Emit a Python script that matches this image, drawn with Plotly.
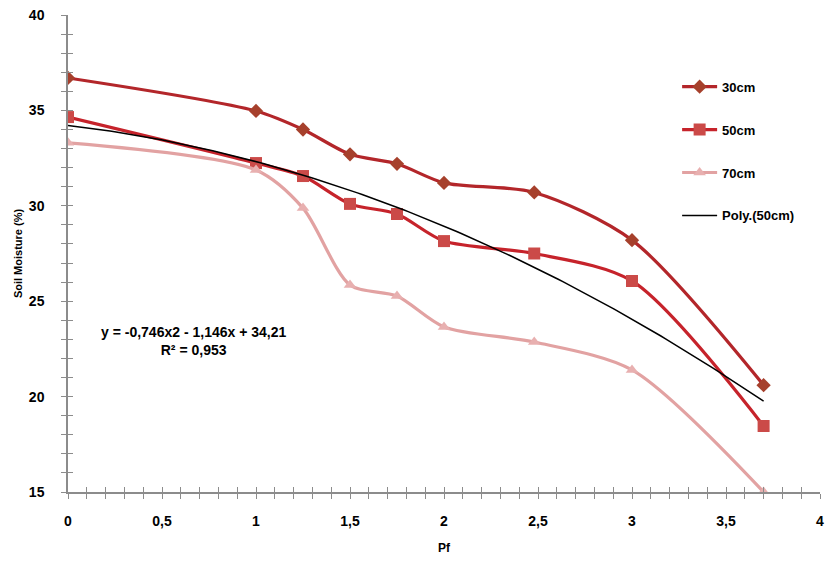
import numpy as np
import plotly.graph_objects as go

pf = [0, 1, 1.25, 1.5, 1.75, 2, 2.48, 3, 3.7]
m30 = [36.7, 34.97, 34.0, 32.7, 32.2, 31.2, 30.7, 28.2, 20.6]
m50 = [34.65, 32.24, 31.56, 30.1, 29.57, 28.15, 27.5, 26.06, 18.46]
m70 = [33.3, 31.88, 29.88, 25.85, 25.27, 23.65, 22.86, 21.4, 15.0]
# polynomial trend coefficients (a2, a1, a0) shown on chart for 50cm
poly50 = [-0.746, -1.146, 34.21]

xt = np.linspace(0, 3.7, 150)
yt = np.polyval(poly50, xt)

FONT = "Liberation Sans"
fig = go.Figure()
fig.add_trace(go.Scatter(x=pf, y=m30, name="30cm", mode="lines+markers",
                         line=dict(color="#B3262A", width=3.2, shape="spline", smoothing=0.8),
                         marker=dict(symbol="diamond", size=11, color="#A6402C"),
                         legendgroup="a"))
fig.add_trace(go.Scatter(x=pf, y=m50, name="50cm", mode="lines+markers",
                         line=dict(color="#C6232B", width=3.2, shape="spline", smoothing=0.8),
                         marker=dict(symbol="square", size=12, color="#CB4A48"),
                         legendgroup="b"))
fig.add_trace(go.Scatter(x=pf, y=m70, name="70cm", mode="lines+markers",
                         line=dict(color="#E2A2A2", width=3.2, shape="spline", smoothing=0.8),
                         marker=dict(symbol="triangle-up", size=11, color="#E8B0B0"),
                         legendgroup="c"))
fig.add_trace(go.Scatter(x=xt, y=yt, name="Poly.(50cm)", mode="lines",
                         line=dict(color="black", width=1.5), legendgroup="d"))
# overlay axes for inside half of crossing ticks
fig.add_trace(go.Scatter(x=[None], y=[None], xaxis="x2", yaxis="y2", showlegend=False, hoverinfo="skip"))

axcommon = dict(showgrid=False, zeroline=False, showline=True, linecolor="#8c8c8c", linewidth=1.5,
                tickcolor="#8c8c8c", ticklen=5, tickwidth=1.2, automargin=False,
                ticklabeloverflow="allow")
fig.update_layout(
    width=828, height=562,
    margin=dict(l=68, r=8, t=15, b=70),
    plot_bgcolor="white", paper_bgcolor="white",
    separators=", ",
    font=dict(family=FONT, size=13, color="black"),
    showlegend=True,
    legend=dict(x=0.81, y=0.881, xanchor="left", yanchor="top", tracegroupgap=23,
                font=dict(family=FONT, size=13, color="black", weight="bold"),
                bgcolor="rgba(0,0,0,0)", itemwidth=35),
    xaxis=dict(range=[0, 4], tickmode="array", tickvals=[0, 0.5, 1, 1.5, 2, 2.5, 3, 3.5, 4],
               ticktext=["0", "0,5", "1", "1,5", "2", "2,5", "3", "3,5", "4"],
               ticks="outside", ticklabelstandoff=10,
               minor=dict(dtick=0.1, ticks="outside", ticklen=5, tickcolor="#8c8c8c"),
               tickfont=dict(family=FONT, size=14, weight="bold"),
               title=dict(text="Pf", font=dict(family=FONT, size=12, weight="bold"), standoff=16),
               **axcommon),
    yaxis=dict(range=[15, 40], tickvals=[15, 20, 25, 30, 35, 40], ticks="outside", ticklabelstandoff=14,
               minor=dict(dtick=1, ticks="outside", ticklen=5, tickcolor="#8c8c8c"),
               tickfont=dict(family=FONT, size=14, weight="bold"),
               title=dict(text="Soil Moisture (%)", font=dict(family=FONT, size=11, weight="bold"), standoff=4),
               **axcommon),
    xaxis2=dict(overlaying="x", matches="x", range=[0, 4], showticklabels=False, ticks="inside",
                tickvals=[0, 0.5, 1, 1.5, 2, 2.5, 3, 3.5, 4], showgrid=False, zeroline=False, showline=False,
                tickcolor="#8c8c8c", ticklen=5, tickwidth=1.2, automargin=False,
                minor=dict(dtick=0.1, ticks="inside", ticklen=5, tickcolor="#8c8c8c")),
    yaxis2=dict(overlaying="y", matches="y", range=[15, 40], showticklabels=False, ticks="inside",
                tickvals=[15, 20, 25, 30, 35, 40], showgrid=False, zeroline=False, showline=False,
                tickcolor="#8c8c8c", ticklen=5, tickwidth=1.2, automargin=False,
                minor=dict(dtick=1, ticks="inside", ticklen=5, tickcolor="#8c8c8c")),
    annotations=[
        dict(x=0.67, y=22.9, xref="x", yref="y", showarrow=False,
             text="y = -0,746x2 - 1,146x + 34,21<br>R² = 0,953",
             font=dict(family=FONT, size=14, weight="bold"), align="center"),
    ],
)
fig.write_html("out.html", config={"displayModeBar": False},
               post_script="document.body.style.margin='0px';")
